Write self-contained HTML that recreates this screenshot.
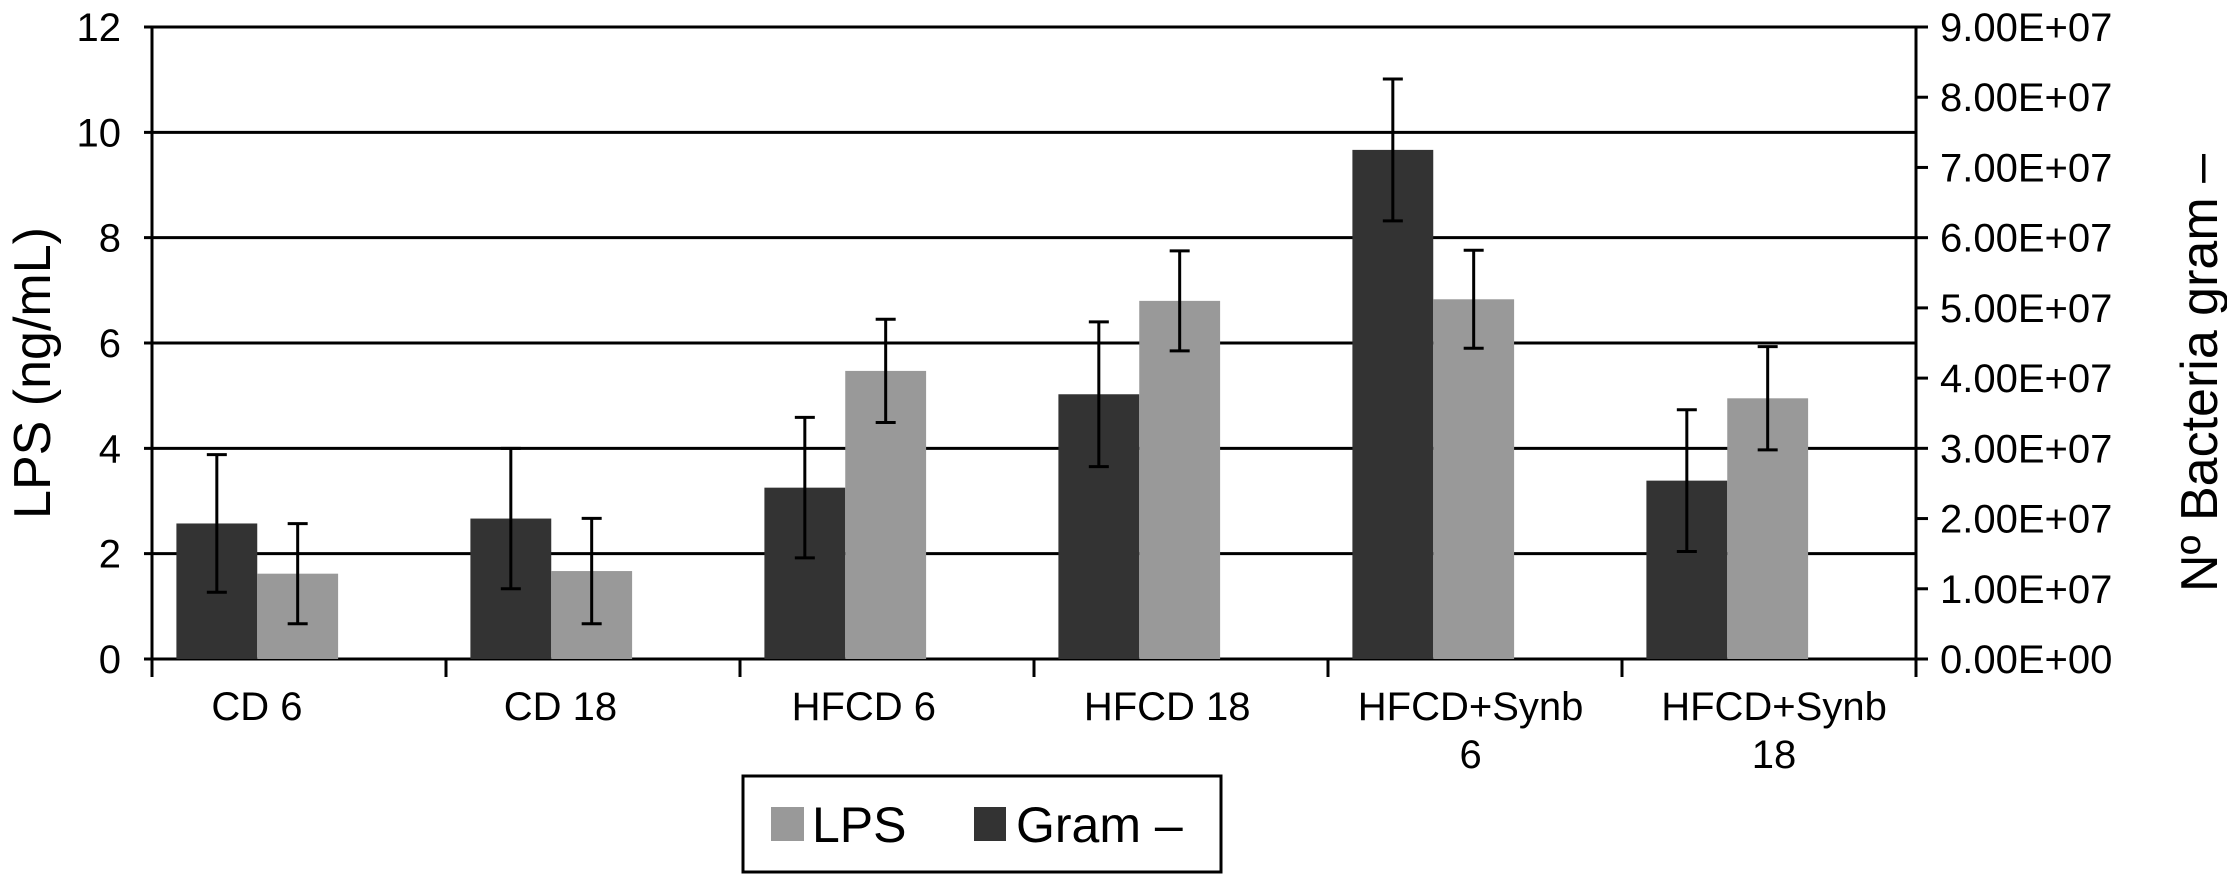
<!DOCTYPE html>
<html><head><meta charset="utf-8"><style>
html,body{margin:0;padding:0;background:#fff;width:2227px;height:875px;overflow:hidden}
svg text{font-family:"Liberation Sans",sans-serif;fill:#000}
</style></head><body>
<svg id="chart" width="2227" height="875" viewBox="0 0 2227 875" xmlns="http://www.w3.org/2000/svg"></svg>
<script>
const categories = [["CD 6"],["CD 18"],["HFCD 6"],["HFCD 18"],["HFCD+Synb","6"],["HFCD+Synb","18"]];
const gramValues = [1.93, 2.0, 2.44, 3.77, 7.25, 2.54]; // x1E+07
const gramErrors = [0.98, 1.0, 1.0, 1.03, 1.01, 1.01];
const lpsValues = [1.62, 1.67, 5.47, 6.80, 6.83, 4.95];
const lpsErrors = [0.95, 1.0, 0.98, 0.95, 0.93, 0.98];
const leftTicks = [0,2,4,6,8,10,12];
const rightTicks = ["0.00E+00","1.00E+07","2.00E+07","3.00E+07","4.00E+07","5.00E+07","6.00E+07","7.00E+07","8.00E+07","9.00E+07"];

const svg = document.getElementById('chart');
const NS = 'http://www.w3.org/2000/svg';
const X0 = 152, X1 = 1916, Y0 = 659, Ytop = 27;
const yL = v => Y0 - (Y0 - Ytop) * v / 12;
const yR = v => Y0 - (Y0 - Ytop) * v / 9;
const groupW = (X1 - X0) / categories.length;
const barW = groupW * 0.275;
function mk(tag, attrs, parent) {
  const e = document.createElementNS(NS, tag);
  for (const k in attrs) e.setAttribute(k, attrs[k]);
  (parent || svg).appendChild(e);
  return e;
}
leftTicks.forEach(t => {
  const l = mk('line', {x1: X0 - 8, x2: X1, y1: yL(t), y2: yL(t), stroke: '#000', 'stroke-width': 3});
  
  
  const tx = mk('text', {x: 121, y: yL(t) + 14, 'font-size': 40, 'text-anchor': 'end'});
  tx.textContent = t;
  
  
});
rightTicks.forEach((t, i) => {
  mk('line', {x1: X1, x2: X1 + 12, y1: yR(i), y2: yR(i), stroke: '#000', 'stroke-width': 3});
  const tx = mk('text', {x: 1940, y: yR(i) + 14, 'font-size': 40});
  tx.textContent = t;
  
  
});
mk('line', {x1: X0, x2: X0, y1: Ytop - 1, y2: Y0 + 18, stroke: '#000', 'stroke-width': 3});
mk('line', {x1: X1, x2: X1, y1: Ytop - 1, y2: Y0 + 18, stroke: '#000', 'stroke-width': 3});
for (let i = 0; i <= categories.length; i++) {
  const x = X0 + i * groupW;
  mk('line', {x1: x, x2: x, y1: Y0, y2: Y0 + 18, stroke: '#000', 'stroke-width': 3});
}
function errBar(cx, yTop, yBot) {
  const g = mk('g', {stroke: '#000', 'stroke-width': 3});
  
  
  mk('line', {x1: cx, x2: cx, y1: yTop, y2: yBot}, g);
  mk('line', {x1: cx - 10, x2: cx + 10, y1: yTop, y2: yTop}, g);
  mk('line', {x1: cx - 10, x2: cx + 10, y1: yBot, y2: yBot}, g);
}
categories.forEach((c, i) => {
  const gx = X0 + i * groupW + groupW * 0.083;
  const gb = mk('rect', {x: gx, y: yR(gramValues[i]), width: barW, height: Y0 - yR(gramValues[i]), fill: '#333'});
  
  
  const lb = mk('rect', {x: gx + barW, y: yL(lpsValues[i]), width: barW, height: Y0 - yL(lpsValues[i]), fill: '#999'});
  
  
  errBar(gx + barW / 2, yR(gramValues[i] + gramErrors[i]), yR(gramValues[i] - gramErrors[i]));
  errBar(gx + barW * 1.5, yL(lpsValues[i] + lpsErrors[i]), yL(lpsValues[i] - lpsErrors[i]));
  c.forEach((line, j) => {
    const t = mk('text', {x: 257 + i * 303.4, y: 720 + j * 48, 'font-size': 40, 'text-anchor': 'middle'});
    t.textContent = line;
    
    
  });
});
const lt = mk('text', {x: 0, y: 0, 'font-size': 52, 'text-anchor': 'middle', transform: 'translate(50,373) rotate(-90)'});
lt.textContent = 'LPS (ng/mL)';


const rt = mk('text', {x: 0, y: 0, 'font-size': 52, 'text-anchor': 'middle', transform: 'translate(2217,373) rotate(-90)'});
rt.textContent = 'Nº Bacteria gram –';


const lg = mk('g', {});


mk('rect', {x: 743, y: 776, width: 478, height: 96, fill: '#fff', stroke: '#000', 'stroke-width': 3}, lg);
mk('rect', {x: 771, y: 807, width: 33, height: 34, fill: '#999'}, lg);
const t1 = mk('text', {x: 812, y: 842, 'font-size': 50}, lg);
t1.textContent = 'LPS';


mk('rect', {x: 974, y: 807, width: 32, height: 34, fill: '#333'}, lg);
const t2 = mk('text', {x: 1016, y: 842, 'font-size': 50}, lg);
t2.textContent = 'Gram –';


</script>
</body></html>
